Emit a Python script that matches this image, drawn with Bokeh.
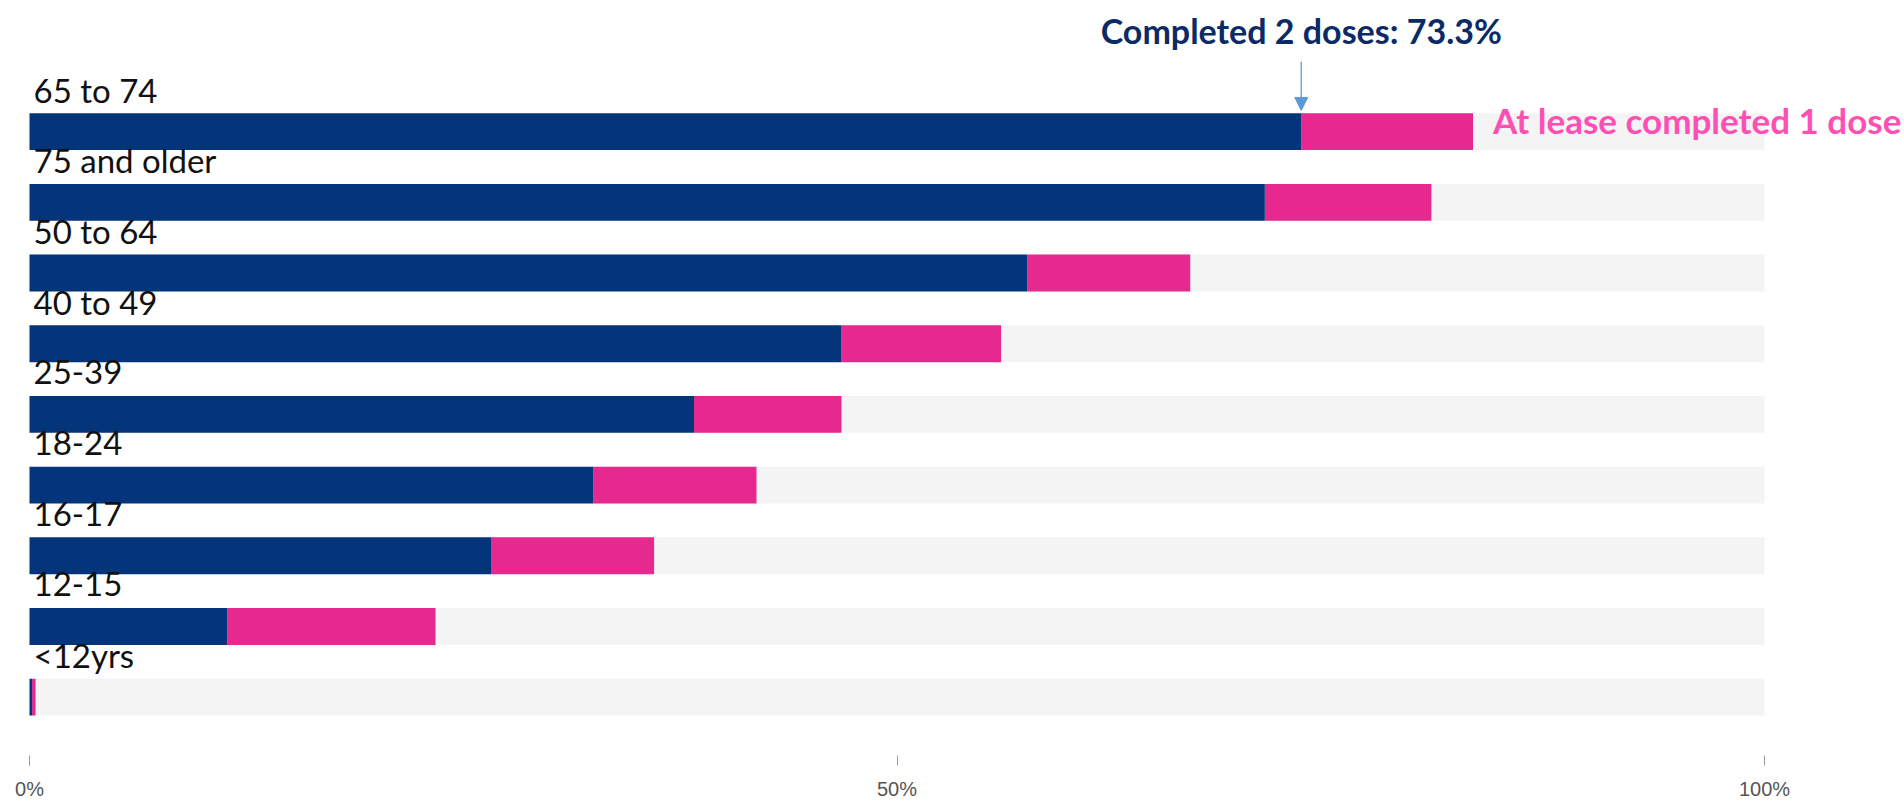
from bokeh.plotting import figure
from bokeh.models import Range1d, ColumnDataSource, Arrow, NormalHead, FixedTicker
from bokeh.core.properties import value
from bokeh.embed import file_html
from bokeh.resources import INLINE

# ---- data ----
categories = ["65 to 74", "75 and older", "50 to 64", "40 to 49", "25-39",
              "18-24", "16-17", "12-15", "<12yrs"]
completed_two = [73.3, 71.2, 57.5, 46.8, 38.3, 32.5, 26.6, 11.4, 0.15]
at_least_one = [83.2, 80.8, 66.9, 56.0, 46.8, 41.9, 36.0, 23.4, 0.35]
full_scale = [100] * len(categories)
tick_values = [0, 50, 100]
tick_labels = {0: "0%", 50: "50%", 100: "100%"}
callout_text = "Completed 2 doses: 73.3%"
pink_label = "At lease completed 1 dose"

NAVY = "#04347a"
PINK = "#e6288f"
GRAY = "#f4f4f4"

W, H = 1904, 802
BOTTOM = 45
frame_h = H - BOTTOM
row_px = 70.875
first_center_px = 131.5
x0_px = 29
px_per_pct = (1764 - 29) / 100.0

rows = list(range(len(categories)))
src = ColumnDataSource(dict(
    row=rows, cat=categories, done=completed_two, one=at_least_one, full=full_scale,
    zero=[0] * len(categories),
))

x_range = Range1d(-x0_px / px_per_pct, (W - x0_px) / px_per_pct)
y_range = Range1d((frame_h - first_center_px) / row_px, -first_center_px / row_px)

p = figure(width=W, height=H, x_range=x_range, y_range=y_range,
           output_backend="svg", toolbar_location=None,
           min_border_left=0, min_border_right=0, min_border_top=0,
           min_border_bottom=BOTTOM)
p.outline_line_color = None
p.background_fill_color = "white"
p.border_fill_color = "white"
p.xgrid.visible = False
p.ygrid.visible = False
p.yaxis.visible = False

bar_h = 0.522
p.hbar(y="row", left="zero", right="full", height=bar_h, source=src,
       fill_color=GRAY, line_color=None)
p.hbar(y="row", left="done", right="one", height=bar_h, source=src,
       fill_color=PINK, line_color=None)
p.hbar(y="row", left="zero", right="done", height=bar_h, source=src,
       fill_color=NAVY, line_color=None)

# category labels above each bar
p.text(x="zero", y="row", text="cat", source=src,
       text_font=value("Lato"), text_font_size="33px", text_color="#111111",
       text_baseline="alphabetic", text_align="left",
       x_offset=4, y_offset=-42)

# callout for completed 2 doses on first row
p.text(x=[completed_two[0]], y=[rows[0]], text=[callout_text],
       text_font=value("Lato"), text_font_style="bold", text_font_size="34px",
       text_color="#0c2a66", text_align="center", text_baseline="alphabetic",
       y_offset=-101)

p.add_layout(Arrow(end=NormalHead(size=13, fill_color="#5b9bd5", line_color="#5b9bd5"),
                   x_start=completed_two[0], y_start=rows[0] - 0.99,
                   x_end=completed_two[0], y_end=rows[0] - 0.30,
                   line_color="#5b9bd5", line_width=1.3))

# label for at least one dose
p.text(x=[at_least_one[0]], y=[rows[0]], text=[pink_label],
       text_font=value("Lato"), text_font_style="bold", text_font_size="35px",
       text_color="#ff4fb4", text_align="left", text_baseline="alphabetic",
       x_offset=20, y_offset=-12)

ax = p.xaxis[0]
ax.ticker = FixedTicker(ticks=tick_values)
ax.major_label_overrides = tick_labels
ax.axis_line_color = None
ax.minor_tick_line_color = None
ax.major_tick_in = 0
ax.major_tick_out = 10
ax.major_tick_line_color = "#999999"
ax.major_label_standoff = 12
ax.major_label_text_font = "Liberation Sans"
ax.major_label_text_font_size = "20px"
ax.major_label_text_color = "#555555"

open("out.html", "w").write(file_html(p, INLINE))
